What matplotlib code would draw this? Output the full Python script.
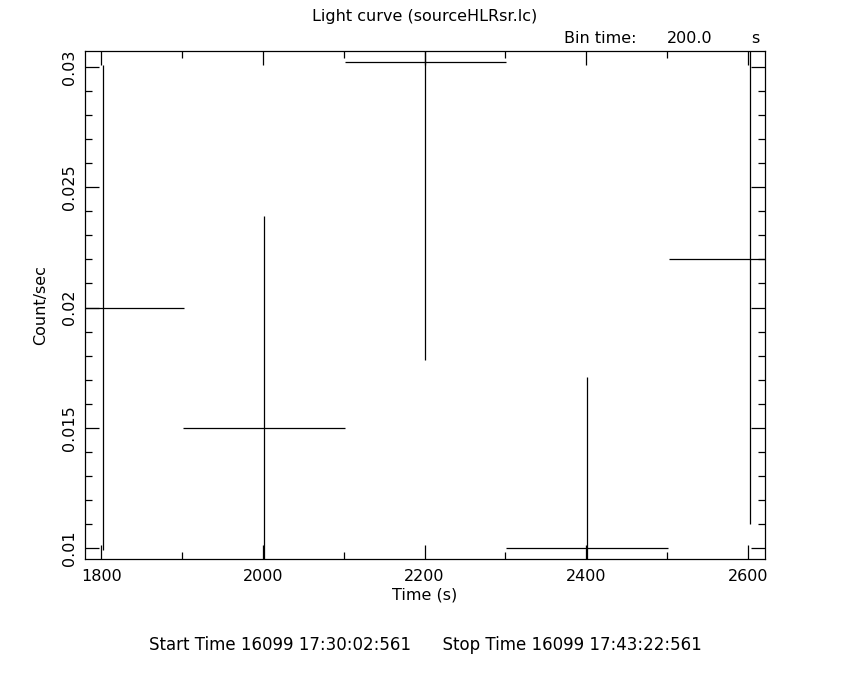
import matplotlib
matplotlib.use("Agg")
from matplotlib import pyplot as plt
from matplotlib.ticker import MultipleLocator

# light curve bins
time = [1802, 2001, 2201, 2401, 2602]
time_err = [100, 100, 100, 100, 100]
rate = [0.0200, 0.0150, 0.0302, 0.0100, 0.0220]
rate_err = [0.0101, 0.0088, 0.0124, 0.0071, 0.0110]

plt.rcParams['font.family'] = ['DejaVu Sans']
fs = 11.5

fig = plt.figure(figsize=(8.5, 6.8), dpi=100)
ax = fig.add_axes([0.1, 0.178, 0.8, 0.747])

ax.errorbar(time, rate, xerr=time_err, yerr=rate_err, fmt='none',
            ecolor='black', elinewidth=0.9, capsize=0)

ax.set_xlim(1780, 2621)
ax.set_ylim(0.00954, 0.03067)

ax.xaxis.set_major_locator(MultipleLocator(200))
ax.xaxis.set_minor_locator(MultipleLocator(100))
ax.yaxis.set_major_locator(MultipleLocator(0.005))
ax.yaxis.set_minor_locator(MultipleLocator(0.001))
ax.tick_params(which='both', direction='in', top=True, right=True,
               width=0.9, labelsize=fs)
ax.tick_params(which='major', length=10)
ax.tick_params(which='minor', length=5)
ax.tick_params(axis='x', pad=7)
ax.tick_params(axis='y', pad=6)
ax.set_yticks([0.01, 0.015, 0.02, 0.025, 0.03])
ax.set_yticklabels(['0.01', '0.015', '0.02', '0.025', '0.03'],
                   rotation=90, va='center')
ax.set_xticks([1800, 2000, 2200, 2400, 2600])
ax.set_xticklabels(['1800', '2000', '2200', '2400', '2600'])
for s in ax.spines.values():
    s.set_linewidth(0.9)

ax.set_xlabel('Time (s)', fontsize=fs, labelpad=3)
ax.set_ylabel('Count/sec', fontsize=fs, labelpad=10)

fig.text(0.5, 0.976, 'Light curve (sourceHLRsr.lc)', ha='center', va='center',
         fontsize=fs)
fig.text(0.664, 0.944, 'Bin time:', ha='left', va='center', fontsize=fs)
fig.text(0.838, 0.944, '200.0', ha='right', va='center', fontsize=fs)
fig.text(0.889, 0.944, 's', ha='center', va='center', fontsize=fs)
fig.text(0.5, 0.051,
         'Start Time 16099 17:30:02:561      Stop Time 16099 17:43:22:561',
         ha='center', va='center', fontsize=12)

fig.savefig('out.png', dpi=100)
